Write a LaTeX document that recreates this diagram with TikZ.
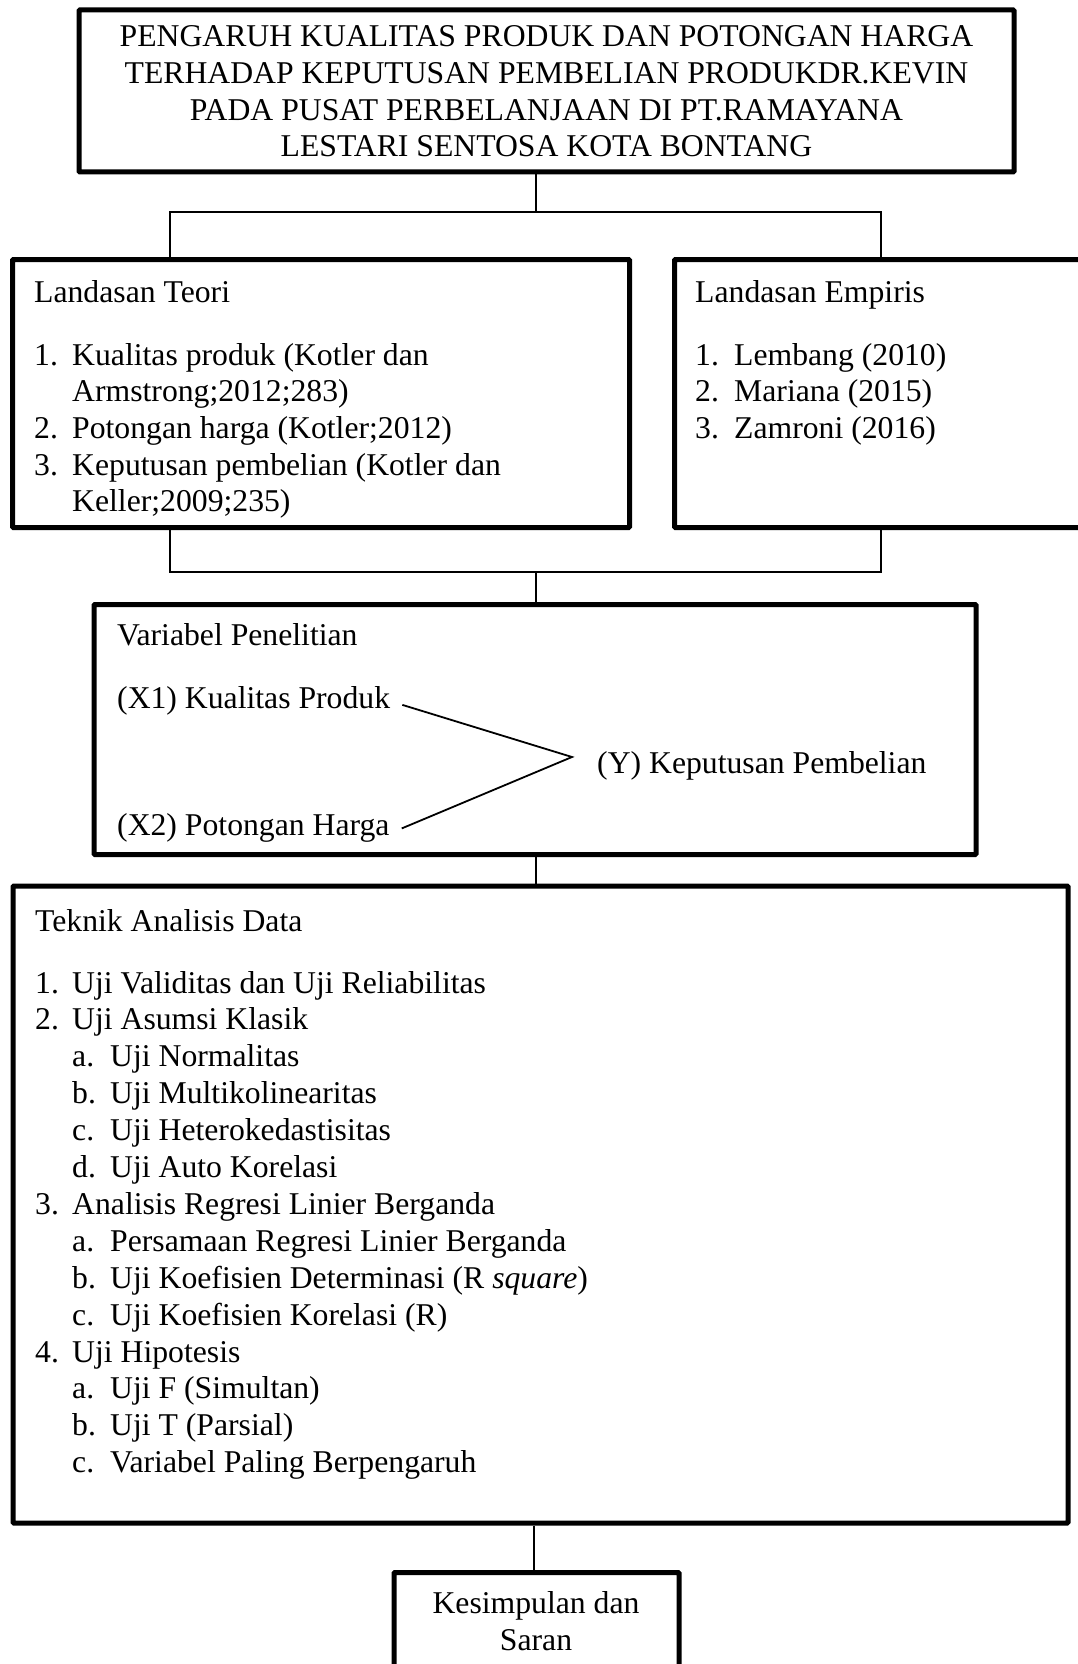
\documentclass[tikz,border=0pt]{standalone}
\usepackage{fontspec}
\setmainfont{Liberation Serif}
\begin{document}
\begin{tikzpicture}[x=1pt,y=-1pt,
  box/.style={draw, line width=5pt, rectangle, inner sep=0pt, rounded corners=1pt},
  conn/.style={draw, line width=1.8pt},
  txt/.style={inner sep=0pt, anchor=base west, font=\fontsize{31.7}{36.9}\selectfont},
  ctxt/.style={txt, anchor=base}]
\useasboundingbox (0,0) rectangle (1078,1664);
\clip (0,0) rectangle (1078,1664);

% boxes
\node[box, minimum width=935pt, minimum height=162pt] (title) at (546.5,91) {};
\node[box, minimum width=617pt, minimum height=268pt] (teori) at (321,393.5) {};
\node[box, minimum width=425.5pt, minimum height=268pt] (empiris) at (887.25,393.5) {};
\node[box, minimum width=882pt, minimum height=250pt] (var) at (535,729.5) {};
\node[box, minimum width=1055pt, minimum height=637pt] (teknik) at (540.5,1204.5) {};
\node[box, minimum width=285pt, minimum height=127.5pt] (kes) at (536.5,1636.25) {};

% title text
\node[ctxt] (ttl1) at (546.5,47) {PENGARUH KUALITAS PRODUK DAN POTONGAN HARGA};
\node[ctxt] (ttl2) at (546.5,83.7) {TERHADAP KEPUTUSAN PEMBELIAN PRODUKDR.KEVIN};
\node[ctxt] (ttl3) at (546.5,120.4) {PADA PUSAT PERBELANJAAN DI PT.RAMAYANA};
\node[ctxt] (ttl4) at (546.5,157) {LESTARI SENTOSA KOTA BONTANG};

% Landasan Teori
\node[txt] (teh) at (34,302) {Landasan Teori};
\node[txt] (ten1) at (34,365) {1.};
\node[txt] (tet1) at (72,365) {Kualitas produk (Kotler dan};
\node[txt] (tet1b) at (72,401.7) {Armstrong;2012;283)};
\node[txt] (ten2) at (34,438.4) {2.};
\node[txt] (tet2) at (72,438.4) {Potongan harga (Kotler;2012)};
\node[txt] (ten3) at (34,475.1) {3.};
\node[txt] (tet3) at (72,475.1) {Keputusan pembelian (Kotler dan};
\node[txt] (tet3b) at (72,511.8) {Keller;2009;235)};

% Landasan Empiris
\node[txt] (emh) at (695,302) {Landasan Empiris};
\node[txt] (emn1) at (695,365) {1.};
\node[txt] (emt1) at (734,365) {Lembang (2010)};
\node[txt] (emn2) at (695,401.7) {2.};
\node[txt] (emt2) at (734,401.7) {Mariana (2015)};
\node[txt] (emn3) at (695,438.4) {3.};
\node[txt] (emt3) at (734,438.4) {Zamroni (2016)};

% Variabel Penelitian
\node[txt] (vh) at (117,645) {Variabel Penelitian};
\node[txt] (x1) at (117,708) {(X1) Kualitas Produk};
\node[txt] (x2) at (117,835) {(X2) Potongan Harga};
\node[txt] (yv) at (597,773) {(Y) Keputusan Pembelian};
\coordinate (vy) at (572,757);
\draw[conn] ([xshift=12pt,yshift=-4.5pt]x1.east) -- (vy) -- ([xshift=12pt,yshift=-1pt]x2.east);

% Teknik Analisis Data
\node[txt] (tkh) at (35,931) {Teknik Analisis Data};
\node[txt] (tkn1) at (35,993) {1.};
\node[txt] (tkt1) at (72,993) {Uji Validitas dan Uji Reliabilitas};
\node[txt] (tkn2) at (35,1029.9) {2.};
\node[txt] (tkt2) at (72,1029.9) {Uji Asumsi Klasik};
\node[txt] (tkl2a) at (72,1066.8) {a.};
\node[txt] (tks2a) at (110,1066.8) {Uji Normalitas};
\node[txt] (tkl2b) at (72,1103.7) {b.};
\node[txt] (tks2b) at (110,1103.7) {Uji Multikolinearitas};
\node[txt] (tkl2c) at (72,1140.6) {c.};
\node[txt] (tks2c) at (110,1140.6) {Uji Heterokedastisitas};
\node[txt] (tkl2d) at (72,1177.5) {d.};
\node[txt] (tks2d) at (110,1177.5) {Uji Auto Korelasi};
\node[txt] (tkn3) at (35,1214.4) {3.};
\node[txt] (tkt3) at (72,1214.4) {Analisis Regresi Linier Berganda};
\node[txt] (tkl3a) at (72,1251.3) {a.};
\node[txt] (tks3a) at (110,1251.3) {Persamaan Regresi Linier Berganda};
\node[txt] (tkl3b) at (72,1288.2) {b.};
\node[txt] (tks3b) at (110,1288.2) {Uji Koefisien Determinasi (R \textit{square})};
\node[txt] (tkl3c) at (72,1325.1) {c.};
\node[txt] (tks3c) at (110,1325.1) {Uji Koefisien Korelasi (R)};
\node[txt] (tkn4) at (35,1362) {4.};
\node[txt] (tkt4) at (72,1362) {Uji Hipotesis};
\node[txt] (tkl4a) at (72,1398.9) {a.};
\node[txt] (tks4a) at (110,1398.9) {Uji F (Simultan)};
\node[txt] (tkl4b) at (72,1435.8) {b.};
\node[txt] (tks4b) at (110,1435.8) {Uji T (Parsial)};
\node[txt] (tkl4c) at (72,1472.7) {c.};
\node[txt] (tks4c) at (110,1472.7) {Variabel Paling Berpengaruh};

% Kesimpulan
\node[ctxt] (kes1) at (536,1613) {Kesimpulan dan};
\node[ctxt] (kes2) at (536,1650) {Saran};

% connectors
\coordinate (jt) at (536,212);
\coordinate (jl) at (170,212);
\coordinate (jr) at (881,212);
\draw[conn] (jt |- title.south) -- (jt);
\draw[conn] (teori.north -| jl) -- (jl) -- (jr) -- (empiris.north -| jr);
\coordinate (kb) at (536,572);
\coordinate (kl) at (170,572);
\coordinate (kr) at (881,572);
\draw[conn] (teori.south -| kl) -- (kl) -- (kr) -- (empiris.south -| kr);
\draw[conn] (kb) -- (kb |- var.north);
\draw[conn] (var.south -| kb) -- (kb |- teknik.north);
\coordinate (ks) at (534,1550);
\draw[conn] (ks |- teknik.south) -- (ks |- kes.north);
\end{tikzpicture}
\end{document}
